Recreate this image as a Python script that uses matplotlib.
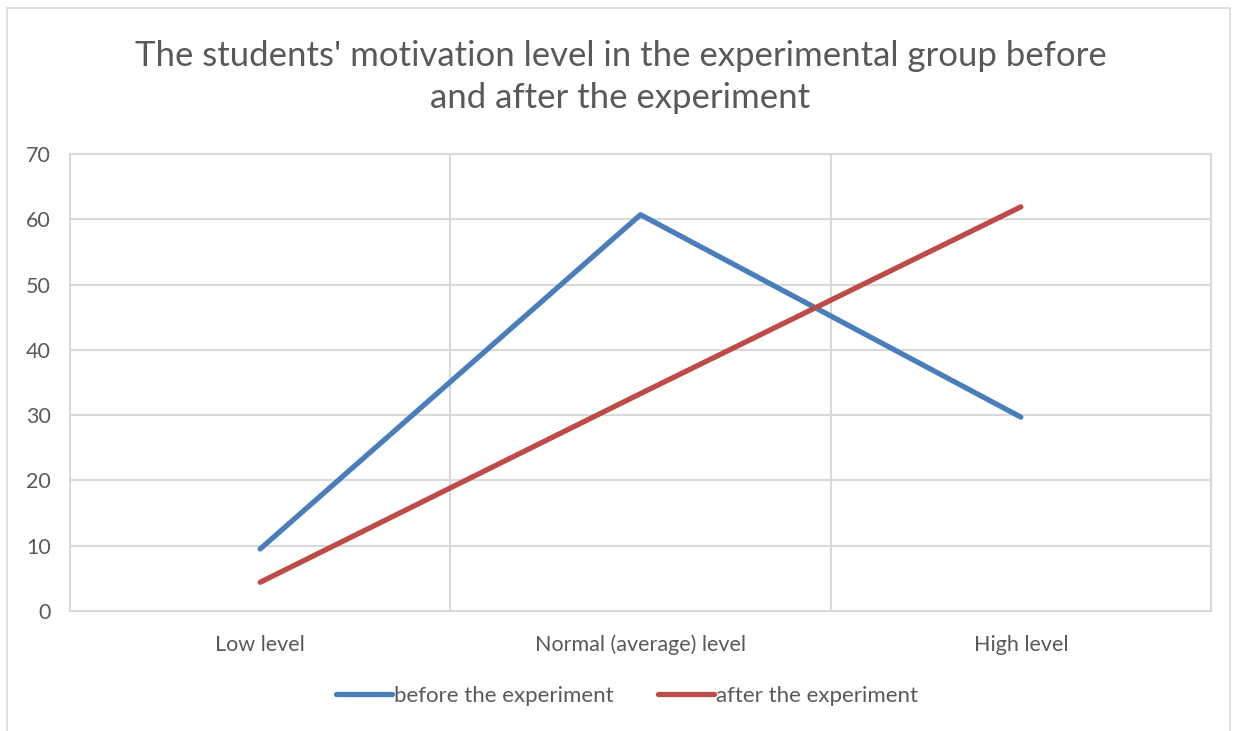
import matplotlib.pyplot as plt
from matplotlib.patches import Rectangle

categories = ['Low level', 'Normal (average) level', 'High level']
before = [9.5, 60.7, 29.7]
after = [4.4, 33.3, 61.9]

grey = '#595959'
grid = '#d9d9d9'

plt.rcParams['font.family'] = ['Lato', 'DejaVu Sans']

fig = plt.figure(figsize=(12.41, 7.31), dpi=100)
W, H = 1241, 731
ax = fig.add_axes([70 / W, (H - 611) / H, (1211 - 70) / W, (611 - 154) / H])

x = list(range(len(categories)))
ax.plot(x, before, color='#4a7ebb', lw=3.8, solid_capstyle='round', label='before the experiment', zorder=3)
ax.plot(x, after, color='#be4b48', lw=3.8, solid_capstyle='round', label='after the experiment', zorder=3)

ax.set_xlim(-0.5, 2.5)
ax.set_ylim(0, 70)
ax.set_yticks(range(0, 71, 10))
ax.set_xticks(x)
ax.set_xticklabels(categories)

# excel style gridlines
for v in range(10, 71, 10):
    ax.axhline(v, color=grid, lw=1.5, zorder=1)
for v in [0.5, 1.5]:
    ax.axvline(v, color=grid, lw=1.5, zorder=1)
for s in ax.spines.values():
    s.set_color(grid)
    s.set_linewidth(1.5)
ax.tick_params(length=0, colors=grey, labelsize=15.5)
ax.tick_params(axis='x', pad=17)
ax.tick_params(axis='y', pad=14)

fig.text(0.5, (H - 77) / H, "The students' motivation level in the experimental group before\nand after the experiment",
         ha='center', va='center', fontsize=25, color=grey, linespacing=1.35)

leg = ax.legend(loc='center', bbox_to_anchor=((627 - 70) / (1211 - 70), -(696 - 611) / (611 - 154)), ncol=2,
                frameon=False, fontsize=16, handlelength=2.5, handletextpad=0.1, columnspacing=2.0)
for t in leg.get_texts():
    t.set_color(grey)

fig.patches.append(Rectangle((7 / W, -0.01), (1230 - 7) / W, (H - 8) / H + 0.01, transform=fig.transFigure,
                             fill=False, edgecolor=grid, lw=1.2))

plt.savefig('out.png', dpi=100)
